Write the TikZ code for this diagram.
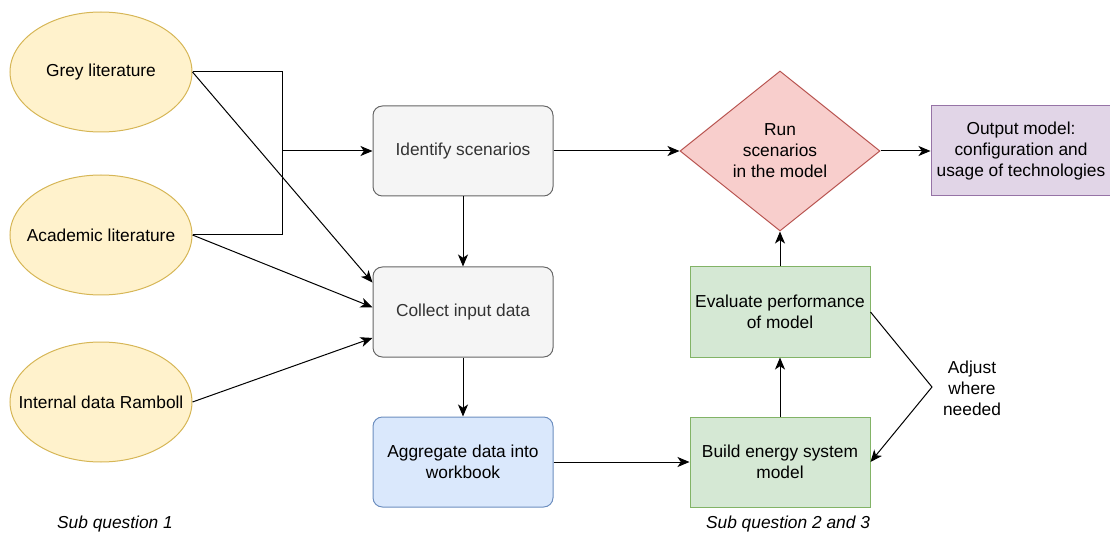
\documentclass[tikz,border=0pt]{standalone}
\usepackage{fontspec}
\setmainfont{Liberation Sans}
\usepackage{xcolor}
\usetikzlibrary{shapes.geometric, arrows.meta, positioning}

\definecolor{yellowfill}{HTML}{FFF2CC}
\definecolor{yellowline}{HTML}{D6B656}
\definecolor{greyfill}{HTML}{F5F5F5}
\definecolor{greyline}{HTML}{666666}
\definecolor{greytext}{HTML}{333333}
\definecolor{bluefill}{HTML}{DAE8FC}
\definecolor{blueline}{HTML}{6C8EBF}
\definecolor{redfill}{HTML}{F8CECC}
\definecolor{redline}{HTML}{B85450}
\definecolor{purplefill}{HTML}{E1D5E7}
\definecolor{purpleline}{HTML}{9673A6}
\definecolor{greenfill}{HTML}{D5E8D4}
\definecolor{greenline}{HTML}{82B366}

% text that does not widen the ellipse
\newcommand{\srctext}[1]{\makebox[0pt]{#1}}

\begin{document}
\begin{tikzpicture}[x=0.75pt, y=-0.75pt,
    every node/.style={font=\fontsize{13pt}{15.75pt}\selectfont, align=center},
    source/.style={ellipse, draw=yellowline, fill=yellowfill, line width=0.75pt,
        minimum width=136.5pt, minimum height=90pt, inner sep=0pt},
    box/.style={rectangle, line width=0.75pt, minimum width=135pt, minimum height=67.5pt, inner sep=2pt},
    greybox/.style={box, rounded corners=7pt, draw=greyline, fill=greyfill, text=greytext},
    bluebox/.style={box, rounded corners=7pt, draw=blueline, fill=bluefill},
    greenbox/.style={box, draw=greenline, fill=greenfill},
    purplebox/.style={box, draw=purpleline, fill=purplefill},
    decision/.style={diamond, draw=redline, fill=redfill, line width=0.75pt,
        minimum width=150pt, minimum height=120pt, aspect=1.25, inner sep=0pt},
    line/.style={line width=0.75pt, black},
    arrow/.style={line, -{Stealth[length=9pt, width=7.5pt, inset=2.5pt]}}]

    \useasboundingbox (0,0) rectangle (1110,538);

    % sources
    \node[source] (grey) at (101, 72) {\srctext{Grey literature}};
    \node[source] (acad) at (101, 235) {\srctext{Academic literature}};
    \node[source] (internal) at (101, 402) {\srctext{Internal data Ramboll}};

    % process
    \node[greybox] (identify) at (463, 151) {Identify scenarios};
    \node[greybox] (collect) at (463, 312) {Collect input data};
    \node[bluebox] (aggregate) at (463, 462) {Aggregate data into\\workbook};
    \node[greenbox] (build) at (780, 462) {Build energy system\\model};
    \node[greenbox] (evaluate) at (780, 312) {Evaluate performance\\of model};
    \node[decision] (run) at (780, 151) {Run\\scenarios\\in the model};
    \node[purplebox] (output) at (1021, 151) {Output model:\\configuration and\\usage of technologies};

    \node (adjust) at (972, 388) {Adjust\\where\\needed};
    \node[font=\fontsize{13pt}{15.75pt}\selectfont\itshape] (sq1) at (115, 524) {Sub question 1};
    \node[font=\fontsize{13pt}{15.75pt}\selectfont\itshape] (sq23) at (788, 524) {Sub question 2 and 3};

    \coordinate (junc) at (282, 151);
    \coordinate (kink) at (932, 387);

    \draw[line] (grey.east) -| (junc);
    \draw[line] (acad.east) -| (junc);
    \draw[arrow] (junc) -- (identify.west);
    \draw[arrow] (grey.east) -- (collect.162);
    \draw[arrow] (acad.east) -- (collect.177);
    \draw[arrow] (internal.east) -- (collect.196);
    \draw[arrow] (identify) -- (collect);
    \draw[arrow] (collect) -- (aggregate);
    \draw[arrow] (aggregate) -- (build);
    \draw[arrow] (build) -- (evaluate);
    \draw[arrow] (evaluate) -- (run);
    \draw[arrow] (identify) -- (run);
    \draw[arrow] (run) -- (output);
    \draw[arrow] (evaluate.east) -- (kink) -- (build.east);
\end{tikzpicture}
\end{document}
